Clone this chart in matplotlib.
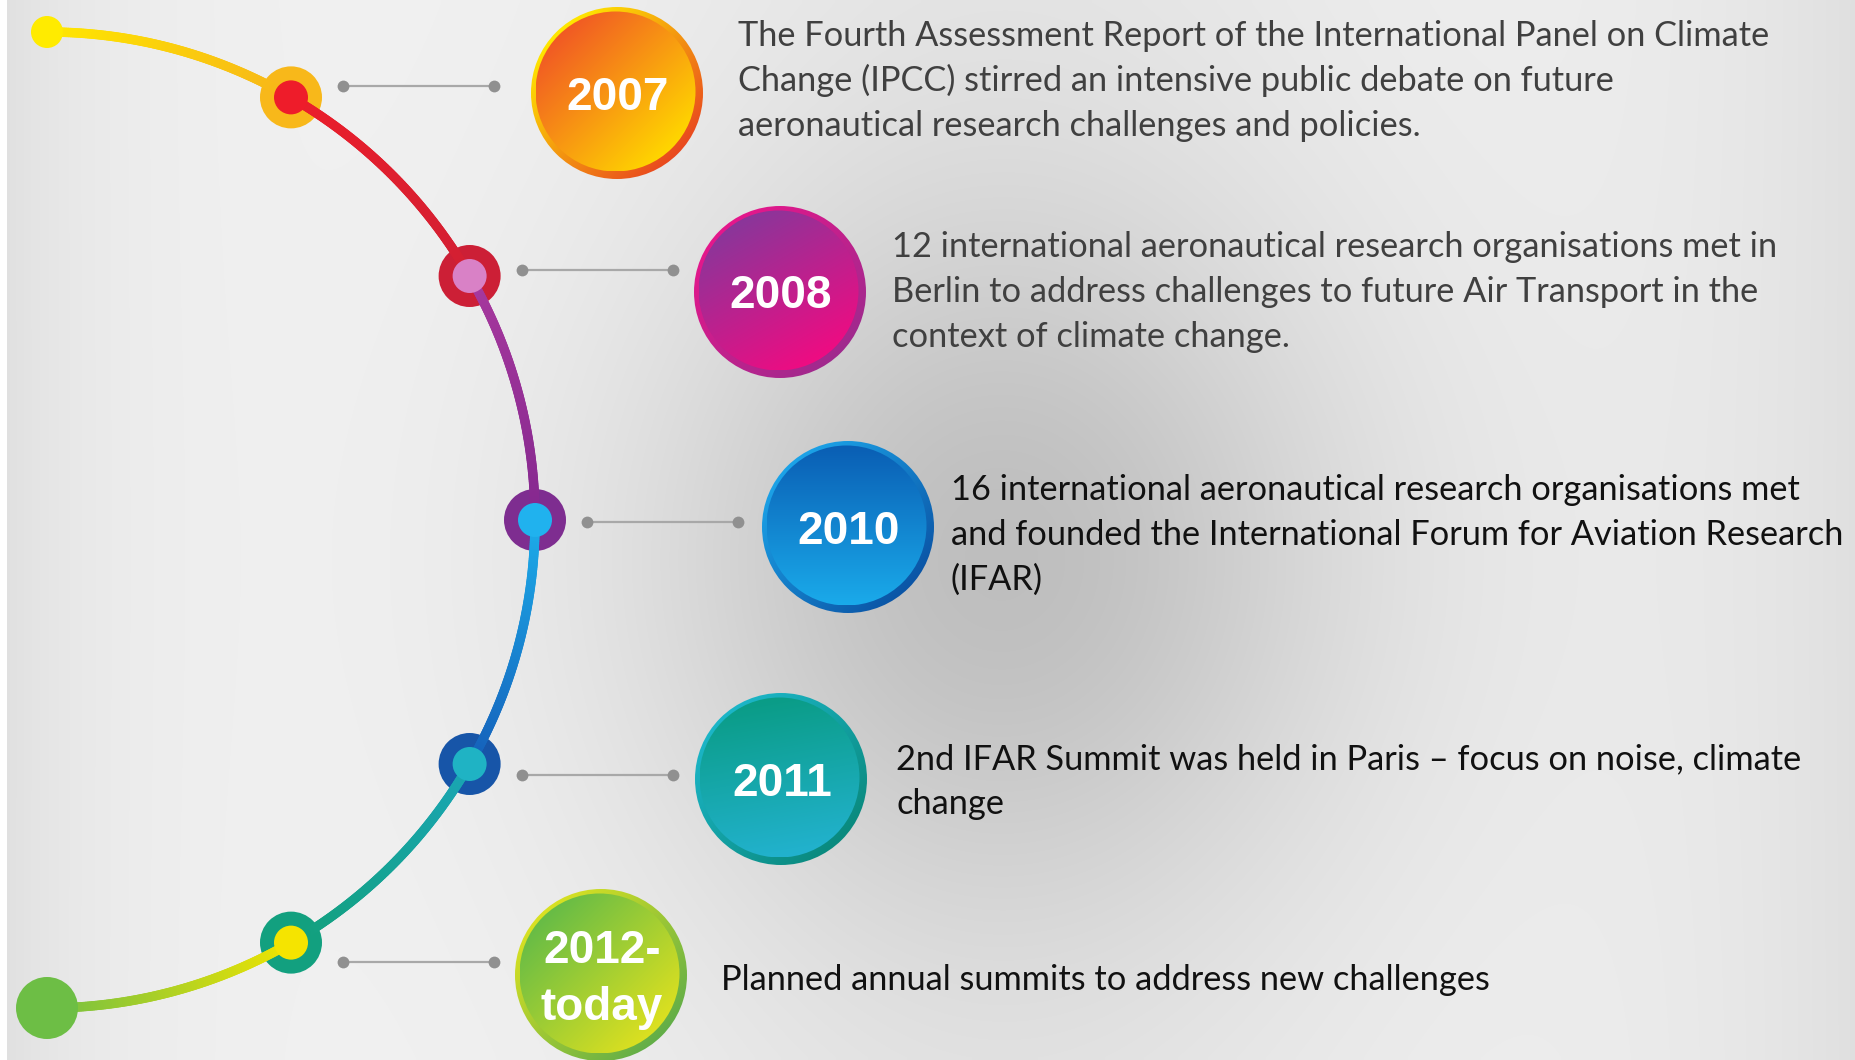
import numpy as np
import matplotlib
matplotlib.use("Agg")
import matplotlib.pyplot as plt
from matplotlib.patches import Circle, Rectangle
from matplotlib.collections import LineCollection
from matplotlib.colors import to_rgb

# ---------------- data ----------------
years = ["2007", "2008", "2010", "2011", "2012-\ntoday"]
descriptions = [
    ["The Fourth Assessment Report of the International Panel on Climate",
     "Change (IPCC) stirred an intensive public debate on future",
     "aeronautical research challenges and policies."],
    ["12 international aeronautical research organisations met in",
     "Berlin to address challenges to future Air Transport in the",
     "context of climate change."],
    ["16 international aeronautical research organisations met",
     "and founded the International Forum for Aviation Research",
     "(IFAR)"],
    ["2nd IFAR Summit was held in Paris \u2013 focus on noise, climate",
     "change"],
    ["Planned annual summits to address new challenges"],
]
node_angles = [60, 30, 0, -30, -60]          # position of each event on the arc (deg)
end_angles = [90, -90]                        # arc end points

# ---------------- styles / layout ----------------
W, H = 1855, 1060
arc_c = (47.0, 520.0)
arc_r = 488.0

seg_colors = [("#FFE800", "#F7B619"),   # top end -> 2007
              ("#EC1E2A", "#D21F33"),   # 2007 -> 2008
              ("#A8399E", "#85288F"),   # 2008 -> 2010
              ("#1DAEEA", "#1560BA"),   # 2010 -> 2011
              ("#1AA6B6", "#12A07C"),   # 2011 -> 2012
              ("#F2E500", "#76C043")]   # 2012 -> bottom end
ring_colors = ["#F8B81A", "#CC1F36", "#7E2D90", "#1755A8", "#12A07F"]
inner_colors = ["#EE1C2A", "#D981C6", "#20B2EE", "#1FB3C4", "#F5E400"]
end_colors = ["#FFEB00", "#6DBE45"]
end_radii = [16, 31]

circle_centers = [(617, 93), (780, 292), (848, 527), (781, 779), (601, 975)]
circle_r = 86
rim_grad = [("#FFE800", "#E9491F"), ("#E5178B", "#A02A8E"), ("#1CA3E8", "#0B55A6"),
            ("#1CB6C8", "#0A8A7E"), ("#D9E122", "#62AE48")]
body_grad = [("#F15A24", "#FFD600"), ("#8A369A", "#EE0C82"), ("#0A5EB4", "#1AAAEA"),
             ("#0A9C86", "#22B2CE"), ("#67BC46", "#DCE020")]
body_dir = [45, 60, 90, 80, 45]

connector_y = [86, 270, 522, 775, 962]
text_x = [738, 892, 951, 896, 721]
text_base = [46, 257, 500, 769, 990]
line_pitch = 45
text_colors = ["#404040", "#404040", "#111111", "#111111", "#111111"]


def arc_pt(a):
    t = np.deg2rad(a)
    return arc_c[0] + arc_r * np.cos(t), arc_c[1] - arc_r * np.sin(t)


fig = plt.figure(figsize=(W / 100, H / 100), dpi=100)
ax = fig.add_axes([0, 0, 1, 1])
ax.set_xlim(0, W)
ax.set_ylim(H, 0)
ax.axis("off")

# ---------------- background ----------------
xs = np.linspace(0, W, 372)
ys = np.linspace(0, H, 212)
xx, yy = np.meshgrid(xs, ys)
yfac = 0.2 + 0.8 * np.exp(-0.5 * ((yy - 560) / 260) ** 2)
v = (0.948 - 0.20 * np.exp(-0.5 * ((xx - 1000) / 260) ** 2) * yfac
     - 0.07 * np.exp(-xx / 110) - 0.07 * np.exp(-(W - xx) / 200))
bg = np.dstack([v, v, v])
ax.imshow(bg, extent=(0, W, H, 0), origin="upper", interpolation="bilinear",
          zorder=0, aspect="auto")
ax.add_patch(Rectangle((0, 0), 7, H, color="white", zorder=0.5, lw=0))


def grad_line(a0, a1, c0, c1, lw, z):
    ang = np.linspace(a0, a1, 120)
    pts = np.array([arc_pt(a) for a in ang])
    segs = np.stack([pts[:-1], pts[1:]], axis=1)
    t = np.linspace(0, 1, len(segs))[:, None]
    cols = (1 - t) * np.array(to_rgb(c0)) + t * np.array(to_rgb(c1))
    lc = LineCollection(segs, colors=cols, linewidths=lw, capstyle="round", zorder=z)
    ax.add_collection(lc)


def grad_circle(cx, cy, r, c0, c1, ang, z):
    n = 96
    u = np.linspace(-1, 1, n)
    U, V = np.meshgrid(u, u)   # V increases downward (row index)
    d = np.array([np.cos(np.deg2rad(ang)), np.sin(np.deg2rad(ang))])
    t = (U * d[0] + V * d[1] + 1) / 2
    t = np.clip(t, 0, 1)[..., None]
    img = (1 - t) * np.array(to_rgb(c0)) + t * np.array(to_rgb(c1))
    im = ax.imshow(img, extent=(cx - r, cx + r, cy + r, cy - r), origin="upper",
                   interpolation="bilinear", zorder=z, aspect="auto")
    clip = Circle((cx, cy), r, transform=ax.transData)
    im.set_clip_path(clip)


# ---------------- arc segments ----------------
all_angles = [end_angles[0]] + node_angles + [end_angles[1]]
for i in range(len(all_angles) - 1):
    grad_line(all_angles[i], all_angles[i + 1], seg_colors[i][0], seg_colors[i][1], 6.8, 2)

# end dots
for a, c, r in zip(end_angles, end_colors, end_radii):
    x, y = arc_pt(a)
    ax.add_patch(Circle((x, y), r, color=c, zorder=3, lw=0))

# nodes
for i, a in enumerate(node_angles):
    x, y = arc_pt(a)
    ax.add_patch(Circle((x, y), 31, color=ring_colors[i], zorder=1.5, lw=0))
    ax.add_patch(Circle((x, y), 17, color=inner_colors[i], zorder=3, lw=0))
    # connector
    cy = connector_y[i]
    ax.plot([x + 52, x + 203], [cy, cy], color="#A8A8A8", lw=1.6, zorder=2,
            solid_capstyle="butt")
    ax.plot([x + 52, x + 203], [cy, cy], "o", color="#909090", ms=8.5, mew=0, zorder=2.2)

# big year circles
for i, lab in enumerate(years):
    cx, cy = circle_centers[i]
    grad_circle(cx, cy, circle_r, rim_grad[i][0], rim_grad[i][1], 45, 4)
    grad_circle(cx - 1.5, cy - 1.5, circle_r - 6, body_grad[i][0], body_grad[i][1],
                body_dir[i], 4.1)
    lines = lab.split("\n")
    n = len(lines)
    for j, ln in enumerate(lines):
        base = cy + 16.5 + (j - (n - 1) / 2) * 57
        ax.text(cx + 1, base, ln, color="white", fontsize=33, fontweight="bold",
                family="Liberation Sans", ha="center", va="baseline", zorder=5)

# descriptions: fit font size so first line matches reference width
renderer = fig.canvas.get_renderer()
probe = ax.text(0, 0, descriptions[0][0], fontsize=26, family="Lato")
w = probe.get_window_extent(renderer).width
probe.remove()
fs = 26 * 1030.0 / w

for i, block in enumerate(descriptions):
    for j, ln in enumerate(block):
        ax.text(text_x[i], text_base[i] + j * line_pitch, ln, fontsize=fs,
                family="Lato", color=text_colors[i], ha="left", va="baseline", zorder=5)

fig.savefig("out.png", dpi=100)
